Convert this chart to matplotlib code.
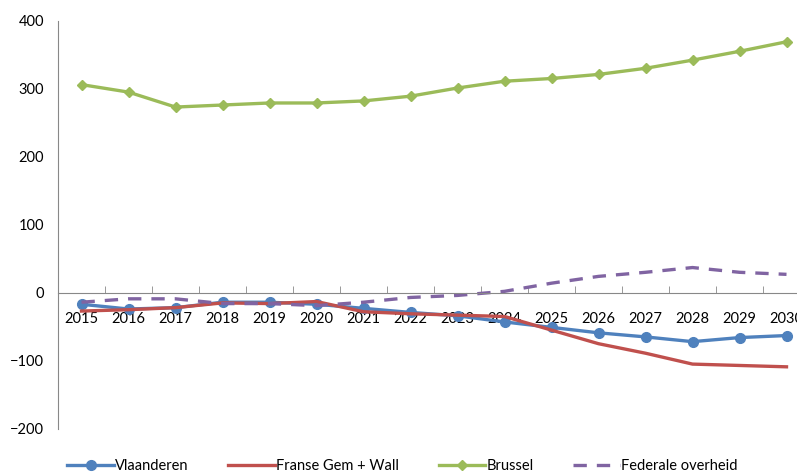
import numpy as np
import matplotlib
matplotlib.use('Agg')
import matplotlib.pyplot as plt

# data
years = ['2015', '2016', '2017', '2018', '2019', '2020', '2021', '2022',
         '2023', '2024', '2025', '2026', '2027', '2028', '2029', '2030']
vlaanderen = [-17, -24, -22, -14, -14, -17, -23, -29, -34, -43, -51, -59, -65, -72, -66, -63]
franse = [-27, -25, -22, -15, -16, -13, -28, -31, -33, -35, -55, -75, -89, -105, -107, -109]
brussel = [306, 295, 273, 276, 279, 279, 282, 289, 301, 311, 315, 321, 330, 342, 355, 369]
federale = [-14, -9, -9, -16, -16, -19, -14, -7, -4, 2, 14, 24, 30, 37, 30, 27]

plt.rcParams['font.family'] = ['Lato', 'DejaVu Sans']

fig = plt.figure(figsize=(7.97, 4.73), dpi=100)
ax = fig.add_axes([58 / 797, 1 - 428.7 / 473, (810 - 58) / 797, (428.7 - 20.7) / 473])

x = np.arange(len(years))
ax.plot(x, vlaanderen, color='#4F81BD', lw=2.4, marker='o', ms=7, label='Vlaanderen')
ax.plot(x, franse, color='#C0504D', lw=2.4, label='Franse Gem + Wall')
ax.plot(x, brussel, color='#9BBB59', lw=2.4, marker='D', ms=5.5, label='Brussel')
ax.plot(x, federale, color='#8064A2', lw=2.4, ls=(0, (4, 3)), label='Federale overheid')

ax.set_xlim(-0.5, len(years) - 0.5)
ax.set_ylim(-200, 400)
ax.set_yticks(range(-200, 401, 100))
ax.tick_params(axis='y', length=0, labelsize=10.5, pad=10)

ax.set_xticks(x)
ax.set_xticklabels(years)
ax.set_xticks(np.arange(len(years) + 1) - 0.5, minor=True)
ax.tick_params(axis='x', which='major', length=0, labelsize=10.5, pad=14)
ax.tick_params(axis='x', which='minor', direction='in', length=5, color='#888888')

for s in ['top', 'right']:
    ax.spines[s].set_visible(False)
ax.spines['bottom'].set_position(('data', 0))
ax.spines['bottom'].set_color('#888888')
ax.spines['left'].set_color('#888888')

fig.legend(loc='center', bbox_to_anchor=(0.505, 0.015), ncol=4, frameon=False,
           fontsize=10.5, handlelength=3.2, columnspacing=2.7, handletextpad=0.1)

fig.savefig('out.png', dpi=100)
